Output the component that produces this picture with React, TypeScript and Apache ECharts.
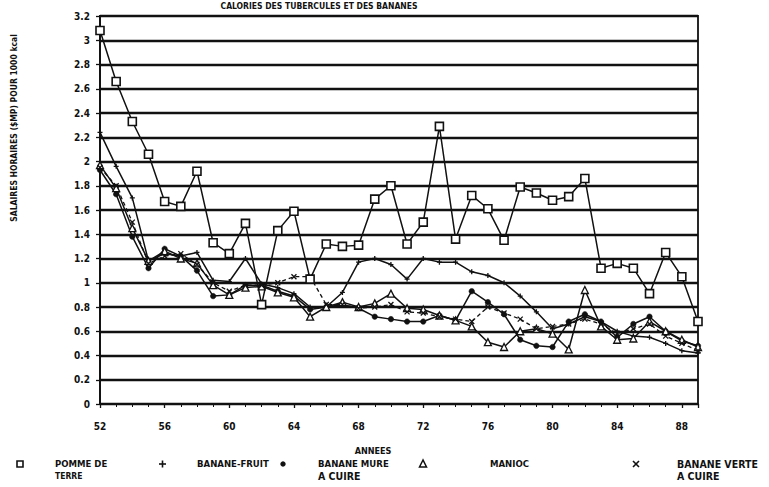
import React, { useEffect, useRef } from "react";
import * as echarts from "echarts";

const years = [52, 53, 54, 55, 56, 57, 58, 59, 60, 61, 62, 63, 64, 65, 66, 67, 68, 69, 70, 71, 72, 73, 74, 75, 76, 77, 78, 79, 80, 81, 82, 83, 84, 85, 86, 87, 88, 89];

const pommeDeTerre = [3.08, 2.66, 2.33, 2.06, 1.67, 1.63, 1.92, 1.33, 1.24, 1.49, 0.82, 1.43, 1.59, 1.03, 1.32, 1.30, 1.31, 1.69, 1.80, 1.32, 1.50, 2.29, 1.36, 1.72, 1.61, 1.35, 1.79, 1.74, 1.68, 1.71, 1.86, 1.12, 1.16, 1.12, 0.91, 1.25, 1.05, 0.68];
const bananeFruit = [2.24, 1.96, 1.70, 1.18, 1.24, 1.22, 1.25, 1.02, 1.01, 1.20, 0.99, 0.96, 0.91, 0.80, 0.80, 0.92, 1.17, 1.20, 1.15, 1.03, 1.20, 1.17, 1.17, 1.09, 1.06, 1.00, 0.89, 0.76, 0.62, 0.66, 0.72, 0.68, 0.60, 0.56, 0.55, 0.50, 0.44, 0.42];
const bananeMure = [1.93, 1.73, 1.38, 1.12, 1.28, 1.22, 1.10, 0.89, 0.90, 0.98, 0.98, 0.93, 0.89, 0.78, 0.80, 0.82, 0.79, 0.72, 0.70, 0.68, 0.68, 0.73, 0.69, 0.93, 0.84, 0.74, 0.53, 0.48, 0.47, 0.68, 0.74, 0.68, 0.55, 0.66, 0.72, 0.60, 0.52, 0.48];
const manioc = [1.97, 1.78, 1.45, 1.18, 1.26, 1.20, 1.16, 0.98, 0.90, 0.96, 0.97, 0.92, 0.88, 0.72, 0.80, 0.84, 0.80, 0.83, 0.91, 0.79, 0.78, 0.73, 0.69, 0.64, 0.51, 0.47, 0.60, 0.62, 0.58, 0.45, 0.94, 0.64, 0.53, 0.54, 0.68, 0.60, 0.53, 0.47];
const bananeVerte = [1.95, 1.80, 1.50, 1.16, 1.22, 1.24, 1.15, 1.00, 0.93, 0.98, 0.98, 1.00, 1.05, 1.05, 0.82, 0.82, 0.79, 0.80, 0.82, 0.76, 0.75, 0.72, 0.70, 0.68, 0.80, 0.75, 0.70, 0.62, 0.64, 0.66, 0.70, 0.66, 0.58, 0.62, 0.66, 0.56, 0.50, 0.44];

const titleText = "CALORIES DES TUBERCULES ET DES BANANES";
const yAxisTitle = "SALAIRES HORAIRES ($MP) POUR 1000 kcal";
const xAxisTitle = "ANNEES";

const FONT = "'DejaVu Sans Condensed', 'DejaVu Sans', sans-serif";
const INK = "#111";

const plusPath = "path://M5,0L5,10M0,5L10,5";
const crossPath = "path://M0,0L10,10M10,0L0,10";

function pairs(vals: number[]) {
  return years.map((y, i) => [y, vals[i]]);
}

export default function App() {
  const ref = useRef<HTMLDivElement>(null);
  useEffect(() => {
    if (!ref.current) return;
    const chart = echarts.init(ref.current, undefined, { renderer: "svg" });
    const lineStyle = { color: INK, width: 1.5 };
    const txt = (x: number, y: number, text: string, extra: any = {}) => ({
      type: "text",
      x,
      y,
      style: { text, fill: INK, font: `bold 9.5px ${FONT}`, ...extra },
    });
    chart.setOption({
      animation: false,
      backgroundColor: "#fff",
      grid: {
        left: 100,
        right: 71,
        top: 16,
        bottom: 83,
        show: true,
        borderColor: INK,
        borderWidth: 1.8,
      },
      xAxis: {
        type: "value",
        min: 52,
        max: 89,
        interval: 4,
        axisLine: { show: true, lineStyle: { color: INK, width: 1.8 } },
        axisTick: { show: true, length: 4, lineStyle: { color: INK, width: 1.3 } },
        minorTick: { show: true, splitNumber: 4, length: 3, lineStyle: { color: INK, width: 1 } },
        splitLine: { show: false },
        axisLabel: {
          showMaxLabel: false,
          margin: 17,
          color: INK,
          fontFamily: FONT,
          fontWeight: "bold",
          fontSize: 10,
          formatter: (v: number) => (v === 89 ? "" : String(v)),
        },
      },
      yAxis: {
        type: "value",
        min: 0,
        max: 3.2,
        interval: 0.2,
        axisLine: { show: true, lineStyle: { color: INK, width: 1.8 } },
        axisTick: { show: true, length: 4, lineStyle: { color: INK, width: 1.3 } },
        splitLine: { show: true, lineStyle: { color: INK, width: 2.3 } },
        axisLabel: {
          margin: 10,
          color: INK,
          fontFamily: FONT,
          fontWeight: "bold",
          fontSize: 10,
        },
      },
      series: [
        {
          name: "POMME DE TERRE",
          type: "line",
          data: pairs(pommeDeTerre),
          symbol: "rect",
          symbolSize: 8,
          lineStyle,
          itemStyle: { color: "#fff", borderColor: INK, borderWidth: 1.6 },
          z: 5,
        },
        {
          name: "BANANE-FRUIT",
          type: "line",
          data: pairs(bananeFruit),
          symbol: plusPath,
          symbolSize: 5,
          lineStyle,
          itemStyle: { color: "none", borderColor: INK, borderWidth: 1.3 },
        },
        {
          name: "BANANE MURE A CUIRE",
          type: "line",
          data: pairs(bananeMure),
          symbol: "circle",
          symbolSize: 5.5,
          lineStyle,
          itemStyle: { color: INK, borderColor: INK, borderWidth: 0.5 },
        },
        {
          name: "MANIOC",
          type: "line",
          data: pairs(manioc),
          symbol: "triangle",
          symbolSize: 7,
          lineStyle,
          itemStyle: { color: "#fff", borderColor: INK, borderWidth: 1.3 },
        },
        {
          name: "BANANE VERTE A CUIRE",
          type: "line",
          data: pairs(bananeVerte),
          symbol: crossPath,
          symbolSize: 5,
          lineStyle: { color: INK, width: 1.3, type: [4, 3] },
          itemStyle: { color: "none", borderColor: INK, borderWidth: 1.3 },
        },
      ],
      graphic: [
        txt(319, 1, titleText, { textAlign: "center", font: `bold 8.5px ${FONT}` }),
        {
          type: "text",
          x: 14,
          y: 128,
          rotation: Math.PI / 2,
          style: {
            text: yAxisTitle,
            fill: INK,
            font: `bold 8.5px ${FONT}`,
            textAlign: "center",
            textVerticalAlign: "middle",
          },
        },
        txt(373, 446, xAxisTitle, { textAlign: "center", font: `bold 9px ${FONT}` }),
        // legend: pomme de terre
        { type: "rect", shape: { x: 17, y: 461, width: 6, height: 6 }, style: { fill: "#fff", stroke: INK, lineWidth: 1.6 } },
        txt(55, 458, "POMME DE"),
        txt(55, 471, "TERRE", { font: `bold 8.5px ${FONT}` }),
        // banane-fruit
        { type: "line", shape: { x1: 159, y1: 464, x2: 166, y2: 464 }, style: { stroke: INK, lineWidth: 1.6 } },
        { type: "line", shape: { x1: 162.5, y1: 460.5, x2: 162.5, y2: 467.5 }, style: { stroke: INK, lineWidth: 1.6 } },
        txt(197, 458, "BANANE-FRUIT"),
        // banane mure
        { type: "circle", shape: { cx: 283, cy: 464, r: 2.7 }, style: { fill: INK } },
        txt(318, 458, "BANANE MURE"),
        txt(318, 470, "A CUIRE", { font: `bold 10.5px ${FONT}` }),
        // manioc
        { type: "polygon", shape: { points: [[423, 460], [419.5, 467], [426.5, 467]] }, style: { fill: "#fff", stroke: INK, lineWidth: 1.5 } },
        txt(490, 458, "MANIOC"),
        // banane verte
        { type: "line", shape: { x1: 633, y1: 461, x2: 639, y2: 467 }, style: { stroke: INK, lineWidth: 1.6 } },
        { type: "line", shape: { x1: 639, y1: 461, x2: 633, y2: 467 }, style: { stroke: INK, lineWidth: 1.6 } },
        txt(677, 458, "BANANE VERTE", { font: `bold 10.5px ${FONT}` }),
        txt(677, 470, "A CUIRE", { font: `bold 10.5px ${FONT}` }),
      ],
    });
    return () => chart.dispose();
  }, []);
  return <div ref={ref} style={{ width: 769, height: 487, position: "absolute", left: 0, top: 0 }} />;
}
